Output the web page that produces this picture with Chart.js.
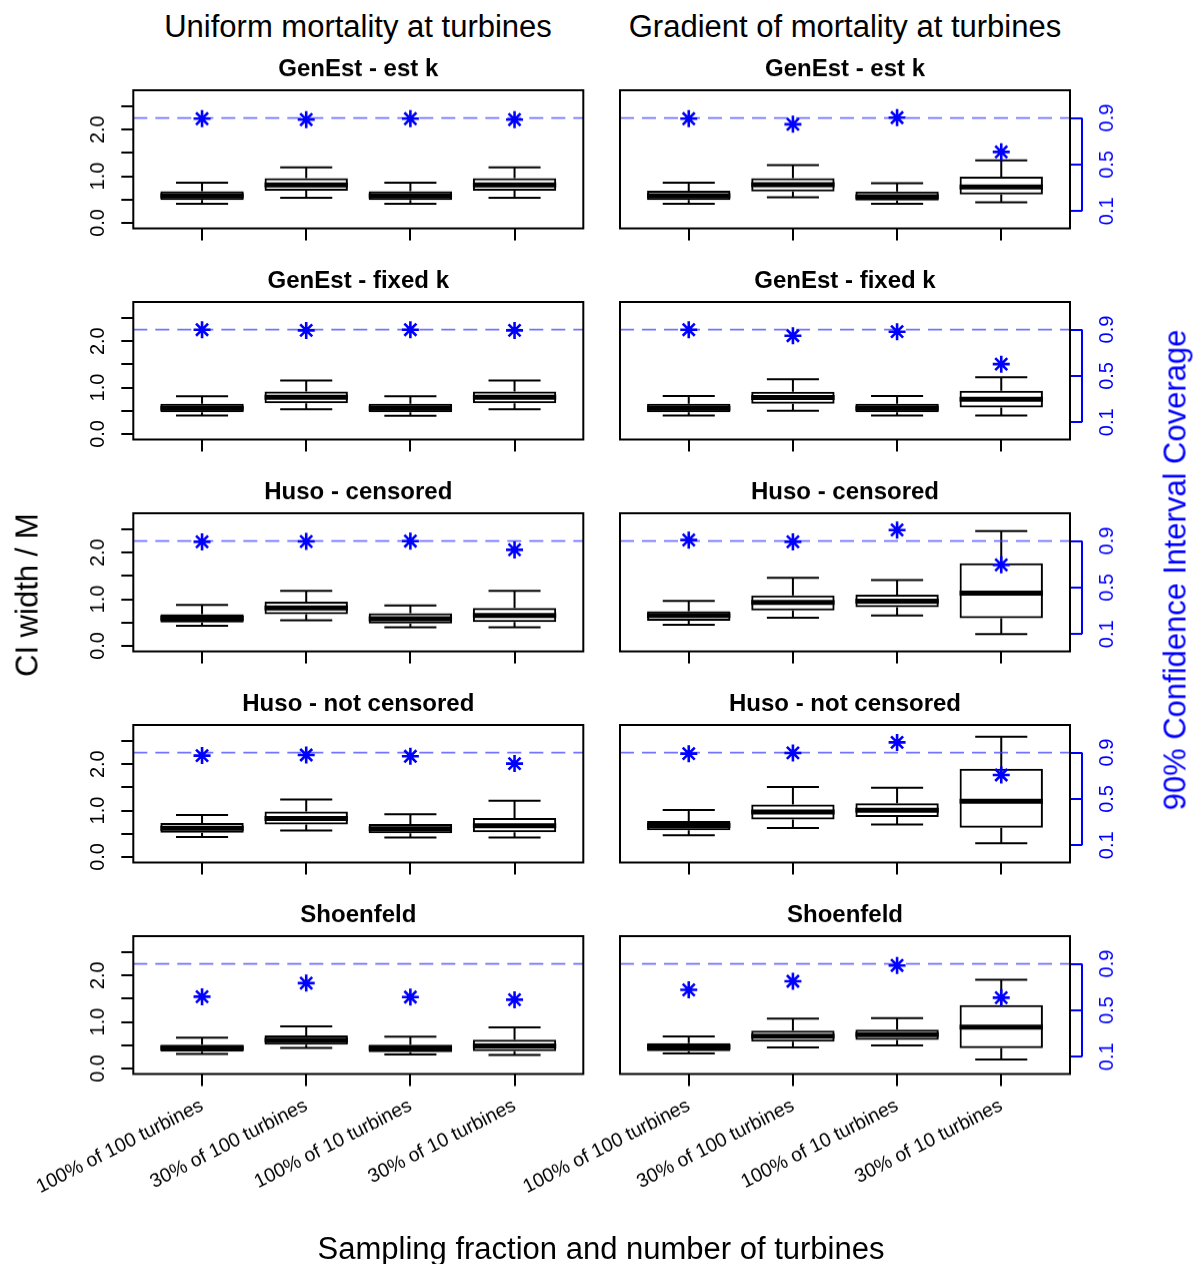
<!DOCTYPE html>
<html>
<head>
<meta charset="utf-8">
<title>CI width and coverage by sampling design</title>
<script src="https://cdn.jsdelivr.net/npm/chart.js@4.4.1/dist/chart.umd.min.js"></script>
<style>
  html, body { margin: 0; padding: 0; background: #ffffff; }
  #page { position: relative; width: 1193px; height: 1264px; overflow: hidden;
          font-family: "Liberation Sans", Arial, Helvetica, sans-serif; }
  .panel { position: absolute; }
  .txt { position: absolute; white-space: nowrap; line-height: 1; color: #000; }
</style>
</head>
<body>
<div id="page"></div>
<script>
// ---- data -------------------------------------------------------------
const scenarios = ['Uniform mortality at turbines', 'Gradient of mortality at turbines'];
const methods = ['GenEst - est k', 'GenEst - fixed k', 'Huso - censored', 'Huso - not censored', 'Shoenfeld'];
const samplingLabels = ['100% of 100 turbines', '30% of 100 turbines', '100% of 10 turbines', '30% of 10 turbines'];

const widthTicks = [0, 0.5, 1, 1.5, 2, 2.5];
const widthTickLabels = ['0.0', '', '1.0', '', '2.0', ''];
const coverageTicks = [0.1, 0.5, 0.9];
const coverageTickLabels = ['0.1', '0.5', '0.9'];
const nominalCoverage = 0.9;

// CI width / M box statistics; one row per panel (method x scenario, uniform then gradient)
const whiskerLow = [
  [0.41, 0.54, 0.41, 0.54], [0.41, 0.55, 0.41, 0.44],
  [0.40, 0.53, 0.39, 0.53], [0.40, 0.50, 0.40, 0.40],
  [0.43, 0.55, 0.40, 0.40], [0.45, 0.60, 0.65, 0.25],
  [0.43, 0.57, 0.42, 0.42], [0.47, 0.625, 0.70, 0.295],
  [0.31, 0.44, 0.30, 0.29], [0.32, 0.45, 0.495, 0.19]
];
const lowerQuartile = [
  [0.49, 0.69, 0.49, 0.69], [0.49, 0.67, 0.48, 0.61],
  [0.47, 0.66, 0.47, 0.66], [0.47, 0.65, 0.47, 0.57],
  [0.50, 0.68, 0.48, 0.51], [0.54, 0.76, 0.83, 0.59],
  [0.52, 0.70, 0.51, 0.53], [0.575, 0.805, 0.86, 0.63],
  [0.36, 0.51, 0.35, 0.37], [0.37, 0.575, 0.615, 0.435]
];
const medianWidth = [
  [0.58, 0.81, 0.58, 0.81], [0.58, 0.82, 0.56, 0.77],
  [0.555, 0.79, 0.555, 0.79], [0.555, 0.785, 0.555, 0.75],
  [0.59, 0.81, 0.58, 0.65], [0.65, 0.93, 0.96, 1.13],
  [0.62, 0.83, 0.61, 0.67], [0.68, 0.97, 1.005, 1.20],
  [0.44, 0.61, 0.435, 0.485], [0.46, 0.695, 0.725, 0.89]
];
const upperQuartile = [
  [0.68, 0.96, 0.68, 0.96], [0.69, 0.96, 0.67, 0.99],
  [0.65, 0.915, 0.65, 0.915], [0.65, 0.91, 0.65, 0.93],
  [0.68, 0.95, 0.70, 0.81], [0.74, 1.08, 1.10, 1.77],
  [0.73, 0.98, 0.71, 0.84], [0.775, 1.13, 1.155, 1.90],
  [0.51, 0.71, 0.51, 0.62], [0.545, 0.81, 0.835, 1.36]
];
const whiskerHigh = [
  [0.86, 1.19, 0.86, 1.19], [0.86, 1.24, 0.85, 1.34],
  [0.81, 1.15, 0.81, 1.15], [0.82, 1.18, 0.82, 1.225],
  [0.88, 1.18, 0.865, 1.18], [0.965, 1.46, 1.41, 2.46],
  [0.905, 1.24, 0.92, 1.21], [1.01, 1.51, 1.49, 2.59],
  [0.66, 0.905, 0.685, 0.885], [0.69, 1.07, 1.08, 1.905]
];
// 90% confidence interval coverage
const coverage = [
  [0.894, 0.886, 0.894, 0.886], [0.894, 0.846, 0.903, 0.609],
  [0.899, 0.893, 0.899, 0.893], [0.899, 0.847, 0.882, 0.602],
  [0.893, 0.896, 0.899, 0.824], [0.908, 0.893, 0.994, 0.695],
  [0.874, 0.879, 0.868, 0.805], [0.891, 0.897, 0.988, 0.707],
  [0.617, 0.734, 0.614, 0.591], [0.676, 0.750, 0.886, 0.609]
];

// ---- layout & style ----------------------------------------------------
const WIDTH_MIN = -0.12, WIDTH_MAX = 2.845;       // CI width axis range
const COVER_SCALE = 2.5;                           // coverage drawn at width = 2.5 * coverage
const X_MIN = 0.34, X_MAX = 4.66;
const PLOT_TOP0 = 90, ROW_STEP = 211.5, PLOT_H = 137.5, PLOT_W = 450;
const TITLE_SPACE = 40;
const COL_CANVAS = [{ left: 0, width: 600, plotLeft: 133.3 }, { left: 480, width: 713, plotLeft: 620 }];
const BLUE = '#0000ff';
const FONT = '"Liberation Sans", Arial, Helvetica, sans-serif';
const TICK_FONT = 20;
const X_LABEL_FONT = 19.5;
const X_LABEL_ANGLE = 27;

Chart.defaults.font.family = FONT;
Chart.defaults.color = '#000';

// whiskers, staples and medians on top of the quartile boxes
const boxWhiskers = {
  id: 'boxWhiskers',
  afterDatasetDraw(chart, args, opts) {
    if (args.meta.type !== 'bar') return;
    const p = opts.panel;
    const xs = chart.scales.x, ys = chart.scales.y, ctx = chart.ctx;
    const unit = xs.getPixelForValue(2) - xs.getPixelForValue(1);
    ctx.save();
    ctx.strokeStyle = '#000';
    ctx.lineCap = 'butt';
    for (let i = 0; i < 4; i++) {
      const cx = xs.getPixelForValue(i + 1);
      const yLo = ys.getPixelForValue(whiskerLow[p][i]);
      const yQ1 = ys.getPixelForValue(lowerQuartile[p][i]);
      const yMed = ys.getPixelForValue(medianWidth[p][i]);
      const yQ3 = ys.getPixelForValue(upperQuartile[p][i]);
      const yHi = ys.getPixelForValue(whiskerHigh[p][i]);
      const cap = unit * 0.25, half = unit * 0.4;
      ctx.lineWidth = 2;
      ctx.beginPath();
      ctx.moveTo(cx, yQ3); ctx.lineTo(cx, yHi);
      ctx.moveTo(cx, yQ1); ctx.lineTo(cx, yLo);
      ctx.moveTo(cx - cap, yHi); ctx.lineTo(cx + cap, yHi);
      ctx.moveTo(cx - cap, yLo); ctx.lineTo(cx + cap, yLo);
      ctx.stroke();
      ctx.lineWidth = 5;
      ctx.beginPath();
      ctx.moveTo(cx - half, yMed); ctx.lineTo(cx + half, yMed);
      ctx.stroke();
    }
    ctx.restore();
  }
};

// panel frame, title, rotated tick labels and the coverage axis line
const panelDecor = {
  id: 'panelDecor',
  afterDraw(chart, args, opts) {
    const a = chart.chartArea, ctx = chart.ctx;
    ctx.save();
    ctx.strokeStyle = '#000';
    ctx.lineWidth = 2;
    ctx.strokeRect(a.left, a.top, a.right - a.left, a.bottom - a.top);

    ctx.fillStyle = '#000';
    ctx.font = 'bold 24px ' + FONT;
    ctx.textAlign = 'center';
    ctx.textBaseline = 'middle';
    ctx.fillText(opts.title, (a.left + a.right) / 2, a.top - 21);

    ctx.font = TICK_FONT + 'px ' + FONT;
    if (opts.leftAxis) {
      const ys = chart.scales.y;
      widthTicks.forEach((v, i) => {
        if (!widthTickLabels[i]) return;
        ctx.save();
        ctx.translate(a.left - 35, ys.getPixelForValue(v));
        ctx.rotate(-Math.PI / 2);
        ctx.fillText(widthTickLabels[i], 0, 0);
        ctx.restore();
      });
    } else {
      const y2 = chart.scales.y2;
      ctx.strokeStyle = BLUE;
      ctx.beginPath();
      ctx.moveTo(a.right + 12, y2.getPixelForValue(coverageTicks[0]));
      ctx.lineTo(a.right + 12, y2.getPixelForValue(coverageTicks[coverageTicks.length - 1]));
      ctx.stroke();
      ctx.fillStyle = BLUE;
      coverageTicks.forEach((v, i) => {
        ctx.save();
        ctx.translate(a.right + 37, y2.getPixelForValue(v));
        ctx.rotate(-Math.PI / 2);
        ctx.fillText(coverageTickLabels[i], 0, 0);
        ctx.restore();
      });
    }
    ctx.restore();
  }
};

const page = document.getElementById('page');

function addText(text, x, y, size, opts = {}) {
  const d = document.createElement('div');
  d.className = 'txt';
  d.textContent = text;
  d.style.left = x + 'px';
  d.style.top = y + 'px';
  d.style.fontSize = size + 'px';
  if (opts.color) d.style.color = opts.color;
  d.style.transform = 'translate(-50%, -50%)' + (opts.rotate ? ' rotate(-90deg)' : '');
  page.appendChild(d);
}

function makePanel(row, col) {
  const p = row * 2 + col;
  const isLeft = col === 0;
  const isBottom = row === methods.length - 1;
  const geo = COL_CANVAS[col];
  const axisH = isBottom ? 185 : 16;
  const top = PLOT_TOP0 + row * ROW_STEP - TITLE_SPACE;
  const height = TITLE_SPACE + PLOT_H + axisH;

  const wrap = document.createElement('div');
  wrap.className = 'panel';
  wrap.style.left = geo.left + 'px';
  wrap.style.top = top + 'px';
  wrap.style.width = geo.width + 'px';
  wrap.style.height = height + 'px';
  const cv = document.createElement('canvas');
  wrap.appendChild(cv);
  page.appendChild(wrap);

  const leftW = geo.plotLeft - geo.left;
  const rightW = geo.width - leftW - PLOT_W;

  new Chart(cv, {
    type: 'bar',
    data: {
      datasets: [
        {
          type: 'bar',
          order: 3,
          data: lowerQuartile[p].map((q1, i) => ({ x: i + 1, y: [q1, upperQuartile[p][i]] })),
          backgroundColor: 'rgba(0,0,0,0)',
          borderColor: '#000',
          borderWidth: 2,
          borderSkipped: false,
          barPercentage: 0.8,
          categoryPercentage: 1.0,
          yAxisID: 'y'
        },
        {
          type: 'line',
          order: 2,
          data: [{ x: X_MIN, y: nominalCoverage }, { x: X_MAX, y: nominalCoverage }],
          borderColor: 'rgba(70,70,255,0.75)',
          borderWidth: 1.8,
          borderDash: [14, 8],
          pointRadius: 0,
          yAxisID: 'y2'
        },
        {
          type: 'scatter',
          order: 1,
          data: coverage[p].map((c, i) => ({ x: i + 1, y: c })),
          pointStyle: 'star',
          pointRadius: 8.5,
          borderColor: BLUE,
          backgroundColor: BLUE,
          borderWidth: 2.6,
          yAxisID: 'y2'
        }
      ]
    },
    options: {
      responsive: true,
      maintainAspectRatio: false,
      animation: false,
      events: [],
      layout: { padding: { top: TITLE_SPACE, left: isLeft ? 0 : leftW, right: isLeft ? rightW : 0, bottom: 0 } },
      plugins: {
        legend: { display: false },
        tooltip: { enabled: false },
        boxWhiskers: { panel: p },
        panelDecor: { title: methods[row], leftAxis: isLeft }
      },
      scales: {
        x: {
          type: 'linear',
          min: X_MIN, max: X_MAX,
          offset: false,
          afterBuildTicks: s => { s.ticks = samplingLabels.map((_, i) => ({ value: i + 1 })); },
          afterFit: s => { s.height = axisH; s.paddingLeft = 0; s.paddingRight = 0; },
          grid: { drawOnChartArea: false, drawTicks: true, tickLength: 12, lineWidth: 2, color: '#000', offset: false },
          border: { display: false },
          ticks: {
            display: isBottom,
            autoSkip: false,
            minRotation: X_LABEL_ANGLE, maxRotation: X_LABEL_ANGLE,
            padding: 8,
            font: { size: X_LABEL_FONT },
            color: '#000',
            callback: v => samplingLabels[v - 1] || ''
          }
        },
        y: {
          type: 'linear',
          position: 'left',
          display: isLeft,
          min: WIDTH_MIN, max: WIDTH_MAX,
          afterBuildTicks: s => { s.ticks = widthTicks.map(v => ({ value: v })); },
          afterFit: s => {
            s.width = isLeft ? leftW : 0;
            s.paddingTop = 0; s.paddingBottom = 0;
          },
          grid: { drawOnChartArea: false, drawTicks: true, tickLength: 12, lineWidth: 2, color: '#000' },
          border: { display: false },
          ticks: { display: false }
        },
        y2: {
          type: 'linear',
          position: 'right',
          display: !isLeft,
          min: WIDTH_MIN / COVER_SCALE, max: WIDTH_MAX / COVER_SCALE,
          afterBuildTicks: s => { s.ticks = coverageTicks.map(v => ({ value: v })); },
          afterFit: s => {
            s.width = isLeft ? 0 : rightW;
            s.paddingTop = 0; s.paddingBottom = 0;
          },
          grid: { drawOnChartArea: false, drawTicks: true, tickLength: 12, lineWidth: 2, color: BLUE },
          border: { display: false },
          ticks: { display: false }
        }
      }
    },
    plugins: [boxWhiskers, panelDecor]
  });
}

for (let r = 0; r < methods.length; r++) {
  for (let c = 0; c < scenarios.length; c++) makePanel(r, c);
}

// outer titles
addText(scenarios[0], 358, 26, 31);
addText(scenarios[1], 845, 26, 31);
addText('CI width / M', 27, 595, 31, { rotate: true });
addText('90% Confidence Interval Coverage', 1175, 570, 31, { rotate: true, color: BLUE });
addText('Sampling fraction and number of turbines', 601, 1248, 31);
</script>
</body>
</html>
